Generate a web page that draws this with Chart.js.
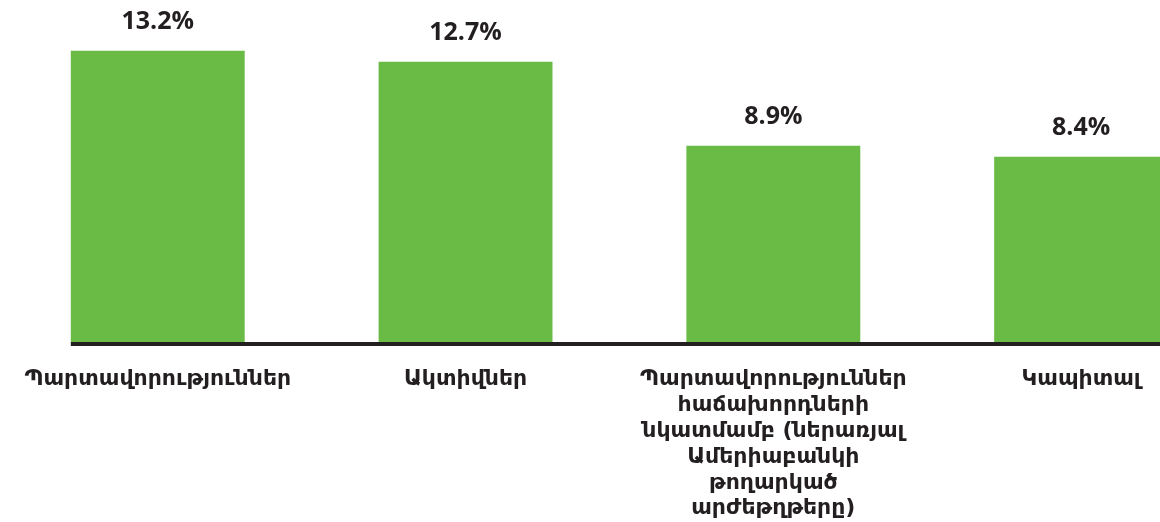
<!DOCTYPE html>
<html>
<head>
<meta charset="utf-8">
<style>
  html, body { margin: 0; padding: 0; background: #ffffff; overflow: hidden; }
  #wrap { width: 1235px; height: 522px; }
</style>
<script src="https://cdn.jsdelivr.net/npm/chart.js@4/dist/chart.umd.min.js"></script>
</head>
<body>
<div id="wrap"><canvas id="chart" width="1235" height="522"></canvas></div>
<script>
// Category names (multi-line labels as arrays)
const categories = [
  "Պարտավորություններ",
  "Ակտիվներ",
  ["Պարտավորություններ", "հաճախորդների", "նկատմամբ (ներառյալ", "Ամերիաբանկի", "թողարկած", "արժեթղթերը)"],
  "Կապիտալ"
];
// Percent values per category
const values = [13.2, 12.7, 8.9, 8.4];

const BAR_GREEN = "#6abb46";
const INK = "#231f20";

// Thick baseline under the bars and percentage labels above them
const barDecor = {
  id: "barDecor",
  afterDatasetsDraw(chart) {
    const ctx = chart.ctx;
    const bars = chart.getDatasetMeta(0).data;
    const first = bars[0], last = bars[bars.length - 1];
    const y0 = chart.chartArea.bottom;
    ctx.save();
    ctx.fillStyle = INK;
    ctx.fillRect(first.x - first.width / 2, y0, (last.x + last.width / 2) - (first.x - first.width / 2), 4);

    ctx.font = "bold 25px 'Open Sans', sans-serif";
    ctx.textAlign = "center";
    ctx.textBaseline = "alphabetic";
    bars.forEach((bar, i) => {
      ctx.fillText(values[i].toFixed(1) + "%", bar.x, bar.y - 22);
    });
    ctx.restore();
  }
};

new Chart(document.getElementById("chart"), {
  type: "bar",
  data: {
    labels: categories,
    datasets: [{
      data: values,
      backgroundColor: BAR_GREEN,
      borderWidth: 0,
      categoryPercentage: 1,
      barPercentage: 0.565
    }]
  },
  options: {
    responsive: false,
    animation: false,
    layout: { padding: { left: 3, right: 0, top: 0, bottom: 0 } },
    plugins: { legend: { display: false }, tooltip: { enabled: false } },
    scales: {
      x: {
        grid: { display: false, drawTicks: false },
        border: { display: false },
        ticks: {
          color: INK,
          padding: 24,
          maxRotation: 0,
          autoSkip: false,
          font: { family: "'DejaVu Sans', sans-serif", size: 22, weight: "bold", lineHeight: 1.18 }
        },
        afterFit(scale) { scale.height = 180; }
      },
      y: {
        display: false,
        min: 0,
        max: 15.5
      }
    }
  },
  plugins: [barDecor]
});
</script>
</body>
</html>
